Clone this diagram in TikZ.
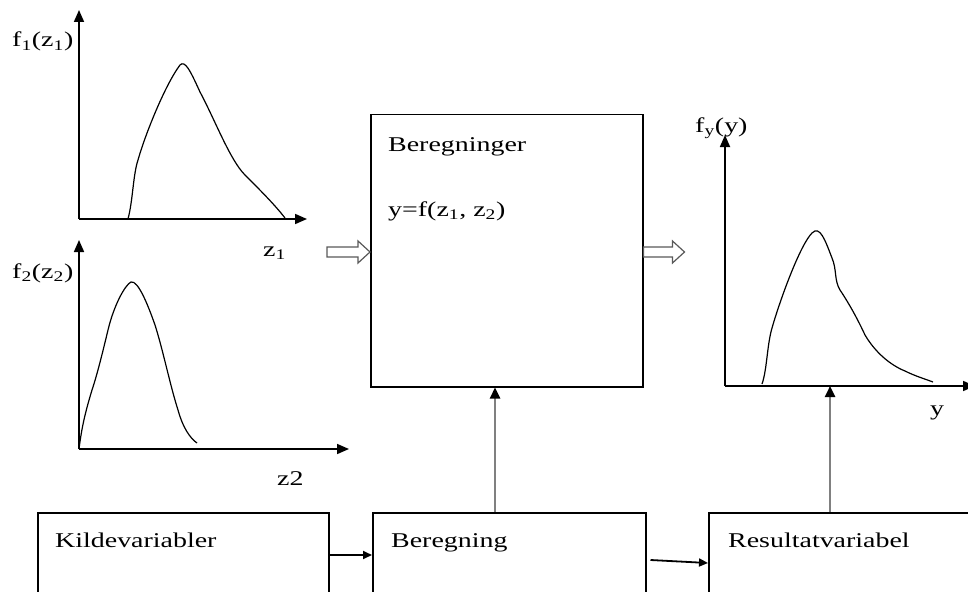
\documentclass[tikz,border=0pt]{standalone}
\usepackage{fontspec}
\setmainfont{Liberation Serif}
\usetikzlibrary{arrows.meta,calc}
\newcommand\sx[1]{\scalebox{1.33}[1]{#1}}
\begin{document}
\begin{tikzpicture}[x=1pt,y=-1pt,
  txt/.style={anchor=base west,inner sep=0pt,font=\fontsize{21}{24}\selectfont},
  axis/.style={line width=1.7pt,-{Triangle[length=12pt,width=10pt]}},
  curve/.style={line width=1.2pt},
  box/.style={draw,line width=1.5pt,rectangle,inner sep=0pt},
  arr/.style={line width=1.8pt,-{Triangle[length=9pt,width=8pt]}},
  garr/.style={line width=2.4pt,draw=gray,-{Triangle[length=11pt,width=10pt,color=black]}},
  hollow/.style={draw=black!65,line width=1.2pt,fill=white}]
\useasboundingbox (0,0) rectangle (968,591);
\begin{scope}
\clip (0,0) rectangle (968,591);
% graph 1
\coordinate (o1) at (79,219);
\coordinate (t1) at (79,10);
\coordinate (r1) at (307,219);
\draw[axis] (o1) -- (t1);
\draw[axis] (o1) -- (r1);
\draw[curve] (128,219) .. controls (133,200) and (133,175) .. (138,160)
  .. controls (145,135) and (165,85) .. (180,65)
  .. controls (185,60) and (190,70) .. (200,92)
  .. controls (215,120) and (230,160) .. (245,175)
  .. controls (260,190) and (275,205) .. (285,218);
\node[txt] (f1) at (12,47) {\sx{f\textsubscript{1}(z\textsubscript{1})}};
\node[txt] (z1) at (263,256) {\sx{z\textsubscript{1}}};
% graph 2
\coordinate (o2) at (79,449);
\coordinate (t2) at (79,240);
\coordinate (r2) at (349,449);
\draw[axis] (o2) -- (t2);
\draw[axis] (o2) -- (r2);
\draw[curve] (79,449) .. controls (82,425) and (86,410) .. (92,390)
  .. controls (97,375) and (102,355) .. (108,330)
  .. controls (114,305) and (125,285) .. (131,282)
  .. controls (138,280) and (148,305) .. (155,325)
  .. controls (163,350) and (170,385) .. (178,410)
  .. controls (183,428) and (190,438) .. (197,443);
\node[txt] (f2) at (12,278) {\sx{f\textsubscript{2}(z\textsubscript{2})}};
\node[txt] (z2) at (277,485) {\sx{z2}};
% central box
\node[box,minimum width=272pt,minimum height=272pt,anchor=north west] (calc) at (370,114) {};
\node[txt] (calcA) at (388,151) {\sx{Beregninger}};
\node[txt] (calcB) at (388,216) {\sx{y=f(z\textsubscript{1}, z\textsubscript{2})}};
% hollow arrows
\draw[hollow] ($(calc.north west)+(-43,133)$) -- ++(31,0) -- ++(0,-6) -- ++(12,11) -- ++(-12,11) -- ++(0,-6) -- ++(-31,0) -- cycle;
\draw[hollow] ($(calc.north east)+(0,133)$) -- ++(29,0) -- ++(0,-6) -- ++(12,11) -- ++(-12,11) -- ++(0,-6) -- ++(-29,0) -- cycle;
% graph 3
\coordinate (o3) at (725,386);
\coordinate (t3) at (725,135);
\coordinate (r3) at (975,386);
\draw[axis] (o3) -- (t3);
\draw[axis] (o3) -- (r3);
\draw[curve] (762,384) .. controls (767,370) and (767,345) .. (772,328)
  .. controls (780,300) and (800,245) .. (812,233)
  .. controls (820,225) and (825,240) .. (832,258)
  .. controls (837,270) and (834,280) .. (840,290)
  .. controls (850,305) and (858,320) .. (865,335)
  .. controls (875,352) and (890,365) .. (905,371)
  .. controls (915,376) and (925,379) .. (933,382);
\node[txt] (fy) at (695,132) {\sx{f\textsubscript{y}(y)}};
\node[txt] (ylab) at (930,415) {\sx{y}};
% bottom boxes
\node[box,minimum width=291pt,minimum height=110pt,anchor=north west] (kilde) at (37,512) {};
\node[box,minimum width=273pt,minimum height=110pt,anchor=north west] (bereg) at (372,512) {};
\node[box,minimum width=262pt,minimum height=110pt,anchor=north west] (res) at (708,512) {};
\node[txt] (kildeT) at (55,547) {\sx{Kildevariabler}};
\node[txt] (beregT) at (391,547) {\sx{Beregning}};
\node[txt] (resT) at (728,547) {\sx{Resultatvariabel}};
\draw[arr] ($(kilde.north east)+(0,43)$) -- ($(bereg.north west)+(0,43)$);
\draw[arr] ($(bereg.north east)+(4,48)$) -- ($(res.north west)+(0,51)$);
\draw[garr] (bereg.north -| 495,0) -- (calc.south -| 495,0);
\draw[garr] (res.north -| 830,0) -- (o3 -| 830,0);
\end{scope}
\end{tikzpicture}
\end{document}
